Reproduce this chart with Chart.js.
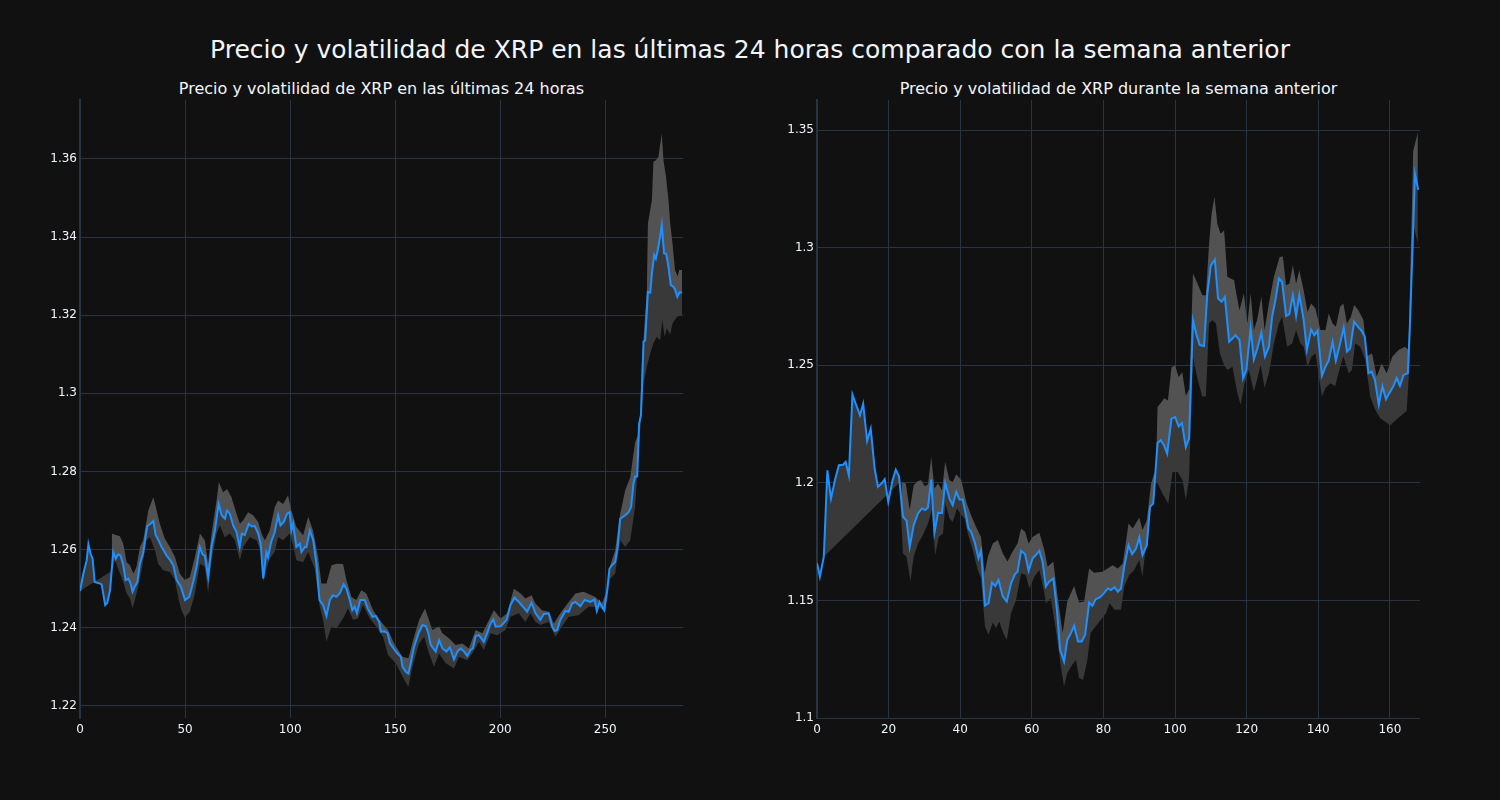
<!DOCTYPE html>
<html>
<head>
<meta charset="utf-8">
<script src="https://cdn.jsdelivr.net/npm/chart.js@4.4.1/dist/chart.umd.min.js"></script>
<style>
  html, body { margin: 0; padding: 0; background: #111111; }
  #wrap { position: relative; width: 1500px; height: 800px; background: #111111; font-family: "DejaVu Sans", sans-serif; color: #f2f5fa; }
  #title { position: absolute; top: 35px; left: 0; width: 1500px; text-align: center; font-size: 25px; line-height: 30px; }
  .sub { position: absolute; top: 79px; font-size: 16px; line-height: 20px; text-align: center; }
  canvas { position: absolute; top: 0; }
</style>
</head>
<body>
<div id="wrap">
  <div id="title">Precio y volatilidad de XRP en las últimas 24 horas comparado con la semana anterior</div>
  <div class="sub" style="left:80px;width:603px;">Precio y volatilidad de XRP en las últimas 24 horas</div>
  <div class="sub" style="left:817px;width:603px;">Precio y volatilidad de XRP durante la semana anterior</div>
  <canvas id="left" width="750" height="800" style="left:0"></canvas>
  <canvas id="right" width="750" height="800" style="left:750px"></canvas>
</div>
<script>
// last 24 hours, 5-minute steps: [step, value]
const dayPrice = [[0,1.2494],[1.6,1.2539],[3.2,1.2573],[4,1.2614],[5,1.259],[6,1.2577],[7,1.2517],[9.5,1.2513],[10.3,1.2511],[12,1.2458],[13,1.2464],[14.3,1.2496],[15.8,1.2594],[17,1.2577],[18.2,1.2588],[19.3,1.2585],[20.6,1.256],[21.7,1.2522],[23,1.2526],[24,1.2515],[25,1.2492],[26,1.2505],[27.3,1.2517],[28.5,1.2564],[30,1.259],[32,1.266],[33.3,1.2665],[34.9,1.2673],[36,1.2637],[37,1.2628],[38.8,1.2607],[41.2,1.2585],[42.8,1.2574],[44.4,1.256],[46,1.2522],[48,1.2505],[50,1.2471],[52,1.2479],[53.9,1.2517],[55.5,1.2556],[57,1.2607],[58.3,1.2588],[59.4,1.2585],[61,1.253],[62.6,1.2607],[64.2,1.2649],[66,1.2717],[67.4,1.2688],[69,1.2679],[70,1.27],[71.3,1.2692],[72.9,1.2662],[74.5,1.2645],[76,1.2607],[77,1.2641],[78.4,1.2637],[80.3,1.2666],[81.6,1.266],[83.2,1.266],[84.8,1.2641],[86,1.2615],[87.2,1.2526],[88.7,1.2594],[89.5,1.2581],[91,1.262],[92.7,1.2645],[94.3,1.2688],[95.4,1.2662],[97,1.2671],[98.6,1.2692],[99.8,1.2696],[100.6,1.2649],[101.4,1.2666],[103,1.2607],[104.6,1.2615],[105.4,1.2594],[107,1.2607],[107.8,1.2607],[109.4,1.2649],[111,1.2624],[112.5,1.2564],[114,1.2471],[115.7,1.2458],[117.3,1.243],[118.9,1.2471],[120.4,1.2483],[122,1.2479],[123.6,1.2488],[125.5,1.2511],[126.8,1.25],[128.4,1.2471],[129.6,1.2445],[130.7,1.2454],[131.8,1.2437],[133.4,1.2471],[135.5,1.2471],[137,1.2449],[139.2,1.2428],[140.8,1.243],[142.4,1.2415],[143.2,1.239],[144.8,1.2391],[146.4,1.2386],[147.5,1.236],[149.5,1.2345],[151.1,1.2334],[152.7,1.2326],[153.5,1.23],[155,1.2288],[156.3,1.2283],[157.4,1.2309],[159,1.2351],[161.1,1.2386],[163,1.2407],[164.6,1.2404],[165.8,1.2386],[166.9,1.2356],[169.3,1.2339],[170.9,1.2368],[172.5,1.2347],[174.4,1.2339],[176,1.235],[178,1.2319],[179.6,1.2339],[181.2,1.2347],[182.8,1.2339],[184.3,1.2328],[185.9,1.2343],[187,1.2347],[188.3,1.2379],[189.9,1.2381],[192.2,1.2364],[193.8,1.2386],[195.4,1.2411],[196.7,1.2421],[197.8,1.2403],[200.2,1.2404],[203,1.242],[204.9,1.2458],[206.8,1.2477],[208.9,1.2466],[210.8,1.2454],[212.8,1.2441],[214.9,1.2464],[216.8,1.2437],[219.1,1.242],[220.7,1.2435],[223.1,1.2437],[224.7,1.2403],[225.9,1.2392],[227.1,1.2394],[228.6,1.242],[231,1.2443],[232.6,1.2441],[234.2,1.2462],[235.8,1.2466],[238.1,1.2455],[240.2,1.2471],[242.9,1.2466],[244.9,1.2472],[246,1.2443],[247.3,1.2466],[248.4,1.2454],[249.5,1.2445],[250.8,1.2492],[252,1.2551],[253.2,1.256],[254.7,1.2568],[255.9,1.2607],[257.1,1.2679],[259.5,1.2688],[261.1,1.2696],[262.3,1.2709],[263.4,1.2768],[264.2,1.2787],[265.2,1.2787],[266.1,1.2922],[267,1.2945],[267.6,1.303],[268.2,1.3132],[269,1.3136],[270.3,1.326],[271.4,1.3258],[272.2,1.3307],[273.3,1.3354],[274.1,1.3345],[275,1.3367],[276.1,1.3401],[276.9,1.3431],[278,1.3358],[279,1.3357],[280.1,1.3324],[281.2,1.3277],[282.4,1.3273],[283.2,1.3266],[284.3,1.3247],[285.3,1.3258],[286.6,1.3258]];
const dayUpper = [[15.1,1.2641],[17.4,1.2637],[19,1.2634],[20.6,1.2615],[22.2,1.2568],[23.8,1.256],[25.4,1.2539],[26.9,1.2556],[28.5,1.2607],[30.1,1.2624],[32.5,1.27],[34.9,1.2734],[36.1,1.2709],[38,1.2666],[40.4,1.2628],[42.8,1.2607],[45.2,1.2581],[47.5,1.2539],[49.9,1.2522],[52.3,1.253],[54.7,1.2581],[57.1,1.2641],[59.4,1.2624],[61,1.2564],[62.6,1.2641],[65,1.2726],[66.1,1.2773],[68.1,1.2747],[70,1.2755],[72.1,1.2734],[74.5,1.2692],[76.1,1.2666],[77.7,1.2675],[80,1.2696],[82.4,1.2688],[84.8,1.2671],[86.4,1.2641],[88,1.2624],[90.3,1.2649],[92.7,1.2709],[94.3,1.2726],[96.7,1.2717],[99,1.2739],[100.6,1.27],[103,1.2658],[106.2,1.2637],[108.6,1.2684],[110.9,1.2649],[113.3,1.2581],[114.9,1.2513],[117.3,1.2513],[119.7,1.256],[122,1.2564],[125.2,1.2563],[126.8,1.2522],[129.2,1.2479],[131.5,1.2471],[133.9,1.2496],[136.3,1.2488],[139.5,1.2445],[142.6,1.242],[146.6,1.2394],[149.5,1.236],[153.5,1.2326],[156.3,1.2322],[159,1.2377],[161.4,1.242],[164.2,1.2449],[166.1,1.242],[167.7,1.2394],[170.9,1.2403],[172.5,1.2386],[175.6,1.2373],[178.8,1.2356],[182,1.236],[185.1,1.2347],[188.3,1.2394],[191.5,1.2386],[197,1.2445],[200.2,1.2424],[203.3,1.2437],[206.5,1.25],[209.7,1.2488],[212,1.2475],[214.9,1.2483],[216.8,1.2462],[219.9,1.2445],[223.1,1.2441],[225.5,1.2411],[228.6,1.2437],[232.6,1.2466],[235.8,1.2488],[239.7,1.2492],[245.3,1.2479],[248.4,1.2462],[250.8,1.2496],[252.4,1.256],[254.7,1.2598],[257.1,1.2692],[259.5,1.2752],[261.9,1.2785],[264.2,1.2875],[265.8,1.2896],[266.6,1.2947],[267.4,1.3077],[269.8,1.3264],[270.3,1.3435],[272.2,1.3495],[272.9,1.3593],[274.1,1.3597],[275.3,1.3606],[276.9,1.3665],[277.7,1.3597],[278.8,1.3559],[280.1,1.3495],[280.9,1.3435],[282,1.3384],[283.2,1.3316],[284.5,1.3299],[285.1,1.3316],[286.6,1.3316]];
const dayLower = [[0,1.2494],[15.1,1.2545],[16.6,1.2573],[19,1.2539],[20.6,1.2517],[22.2,1.2488],[23.8,1.2475],[25,1.2449],[26.9,1.2488],[29.3,1.2547],[31.7,1.2624],[33.3,1.2632],[35.7,1.2598],[37.2,1.2564],[39.6,1.2547],[42.8,1.2543],[45.2,1.2522],[46.8,1.2475],[48.3,1.2445],[49.9,1.2426],[52.3,1.2441],[54.7,1.2488],[57.1,1.2564],[59.4,1.2556],[61,1.2488],[62.6,1.2573],[65,1.2641],[66.6,1.2662],[68.9,1.2632],[71.3,1.2641],[73.7,1.2624],[76.1,1.2573],[77.7,1.2607],[80.8,1.2632],[84,1.2624],[86.4,1.259],[87.2,1.2517],[88.7,1.2551],[90.3,1.2577],[92.7,1.2594],[94.3,1.2632],[96.7,1.2624],[99.8,1.2641],[101.4,1.2611],[103,1.2573],[106.2,1.2568],[108.6,1.2594],[111.7,1.2551],[114.1,1.2454],[115.7,1.242],[117.3,1.2364],[119.7,1.2403],[122,1.2398],[125.2,1.2424],[127.6,1.2449],[130,1.242],[132.3,1.2424],[134.7,1.2458],[137.9,1.2424],[141,1.2403],[144.2,1.2377],[146.6,1.233],[150.3,1.2309],[153.5,1.2275],[156.3,1.2249],[158.2,1.23],[161.4,1.236],[163.8,1.2377],[166.1,1.2334],[168.5,1.23],[170.9,1.2334],[174.1,1.2309],[178,1.2296],[180.4,1.2326],[184.3,1.2317],[186.7,1.2334],[189.9,1.2364],[192.2,1.2343],[195.4,1.2386],[198.6,1.2381],[202.5,1.2394],[204.9,1.2428],[208.9,1.2437],[212,1.2415],[214.4,1.2437],[216.8,1.2415],[219.1,1.2407],[223.1,1.2415],[226.3,1.2377],[229.4,1.2403],[232.6,1.2428],[237.3,1.2432],[242.1,1.2454],[246.8,1.2454],[250,1.2441],[252.4,1.2526],[254.7,1.2539],[257.1,1.2624],[259.5,1.2607],[261.9,1.2624],[264.2,1.2709],[265.8,1.2837],[268.2,1.3026],[269.8,1.3068],[271.4,1.3102],[272.9,1.3128],[274.5,1.3145],[276.1,1.3136],[277.2,1.3188],[278.2,1.3145],[279.3,1.3166],[280.9,1.315],[282,1.3179],[284.1,1.3196],[286.6,1.32]];

// previous week, hourly steps: [hour, value]
const weekPrice = [[0,1.1658],[0.8,1.1601],[1.9,1.1686],[2.9,1.2053],[3.9,1.1933],[5,1.2011],[6.1,1.2075],[7.3,1.2077],[8,1.2089],[8.9,1.2032],[9.9,1.2375],[11,1.2329],[12,1.2287],[12.9,1.2336],[14,1.2178],[15,1.223],[16.1,1.2061],[17,1.1983],[18,1.1997],[18.9,1.2015],[19.9,1.1919],[21.1,1.2011],[22,1.2056],[22.9,1.2028],[24,1.1856],[25,1.1839],[25.9,1.1728],[27,1.182],[28.2,1.187],[29.3,1.1891],[30.2,1.1884],[31,1.1895],[31.9,1.2014],[32.8,1.1788],[33.8,1.1873],[34.9,1.1872],[35.8,1.2],[37,1.1933],[37.9,1.1905],[38.9,1.1962],[39.8,1.1929],[40.7,1.1929],[41.7,1.1856],[42.3,1.1806],[43,1.1792],[44,1.1749],[45.1,1.1679],[45.8,1.1711],[46.9,1.1478],[47.9,1.1488],[48.9,1.1576],[49.8,1.1561],[50.7,1.1587],[51.9,1.1516],[53,1.1495],[54.2,1.1573],[55.3,1.1612],[56,1.1622],[57,1.1711],[58.1,1.1697],[59.1,1.1626],[60.2,1.1679],[61.1,1.1693],[62.1,1.1711],[63,1.1665],[63.9,1.1559],[64.8,1.158],[66,1.1594],[67,1.146],[67.9,1.129],[69,1.124],[69.9,1.1332],[70.9,1.1361],[71.8,1.1392],[72.9,1.1325],[73.9,1.1325],[74.9,1.1354],[76,1.1491],[76.9,1.1477],[77.8,1.1505],[79,1.1513],[80.1,1.153],[81.2,1.1551],[82.1,1.1544],[83.1,1.1556],[84,1.1537],[84.9,1.1551],[85.8,1.1643],[87,1.1735],[88,1.1697],[89.1,1.1721],[90,1.1768],[90.9,1.1693],[92.1,1.1735],[93,1.1898],[93.9,1.1912],[95.1,1.2169],[96,1.2181],[96.9,1.216],[97.8,1.2124],[99,1.2273],[100,1.228],[101,1.224],[101.9,1.2254],[103,1.2152],[103.9,1.2188],[105,1.2692],[106,1.2628],[106.9,1.2586],[108.1,1.2582],[109,1.2805],[110,1.2925],[111.1,1.2949],[112,1.2784],[113,1.277],[113.9,1.2791],[115.1,1.26],[116,1.2614],[116.9,1.2628],[118,1.2607],[119,1.2445],[119.9,1.248],[121.1,1.2657],[122,1.2525],[123,1.2572],[124.1,1.2638],[125.1,1.2537],[126.2,1.2579],[127.1,1.2706],[128.1,1.2784],[129,1.2869],[129.9,1.2854],[131,1.2709],[131.9,1.2717],[132.9,1.2798],[133.8,1.2709],[134.7,1.2798],[135.9,1.2695],[136.8,1.2565],[138,1.2652],[138.9,1.2628],[139.8,1.2647],[141,1.2455],[142,1.2494],[142.9,1.252],[144,1.26],[144.9,1.252],[146.1,1.2593],[147.1,1.2661],[148,1.2558],[148.9,1.2572],[150,1.2685],[151.2,1.2661],[152.1,1.2647],[153,1.2621],[154,1.2466],[154.9,1.2473],[155.8,1.2438],[156.9,1.2332],[157.9,1.241],[158.9,1.2356],[160.1,1.2388],[161,1.2412],[161.9,1.2445],[162.8,1.2412],[163.8,1.2459],[165,1.2466],[165.6,1.2678],[166.3,1.2989],[167,1.3313],[167.9,1.3246]];
const weekUpper = [[23.6,1.2004],[24.8,1.1997],[25.9,1.1884],[27,1.199],[28.2,1.2008],[29.1,1.2011],[30.1,1.1986],[31,1.1994],[31.9,1.211],[32.8,1.1976],[33.8,1.1997],[34.9,1.1969],[35.8,1.2089],[37,1.2011],[37.9,1.2004],[38.9,1.2036],[40.3,1.2011],[41.7,1.1919],[43,1.1863],[44.4,1.1813],[45.8,1.177],[46.8,1.1615],[47.7,1.1686],[49.1,1.1742],[50.5,1.1757],[51.9,1.17],[53.2,1.1665],[54.6,1.1707],[56,1.1742],[57,1.1806],[58.1,1.1792],[59.1,1.1742],[60.2,1.177],[62.1,1.1788],[63.5,1.1714],[64.4,1.1643],[66,1.1665],[67.2,1.1516],[68.6,1.1361],[69.9,1.1495],[71.8,1.1561],[73.2,1.1491],[74.6,1.1495],[76,1.1636],[77.4,1.1618],[79.7,1.1622],[82.6,1.165],[84,1.1636],[85.4,1.1657],[87,1.1827],[88.2,1.1806],[90,1.1853],[90.9,1.1799],[92.1,1.1841],[93.3,1.1997],[94.7,1.2068],[95.1,1.2322],[96,1.234],[97,1.236],[98,1.235],[99,1.249],[100,1.25],[101,1.245],[102,1.247],[103,1.237],[104,1.24],[105,1.289],[106.3,1.2847],[107.6,1.2798],[108.6,1.2798],[109.5,1.3017],[110.2,1.3144],[111,1.3217],[111.8,1.3102],[112.7,1.3059],[113.7,1.3073],[114.6,1.2876],[115.5,1.2869],[116.5,1.2861],[117.1,1.2805],[118,1.2734],[119.2,1.2805],[120.2,1.2678],[121.1,1.2805],[122,1.265],[122.9,1.2692],[124.1,1.2791],[125,1.265],[126.2,1.2763],[127.6,1.2876],[129.2,1.296],[130.1,1.2963],[131,1.284],[131.9,1.2847],[132.9,1.2925],[133.8,1.2847],[134.7,1.2904],[135.9,1.2819],[137,1.2727],[138,1.2763],[139.2,1.2741],[140.6,1.265],[142,1.265],[142.9,1.272],[144,1.2678],[144.9,1.2664],[146.1,1.2749],[147,1.2763],[148,1.2678],[149.1,1.2706],[150,1.2756],[151.2,1.2734],[152.6,1.2692],[153.6,1.2537],[155,1.2551],[156.3,1.2452],[157.7,1.2508],[159.1,1.2466],[160.7,1.2537],[162.4,1.2565],[164.2,1.2579],[165.2,1.2565],[166.5,1.3412],[167.8,1.349]];
const weekLower = [[1.9,1.1686],[23,1.2],[24,1.17],[25,1.1686],[26.1,1.158],[27,1.1686],[28.2,1.1742],[29.6,1.1778],[31,1.1827],[32.1,1.1884],[33,1.1693],[34,1.177],[35.2,1.1785],[35.9,1.1912],[37,1.1848],[37.9,1.1834],[39.1,1.1891],[40.3,1.1863],[41.2,1.1848],[42.1,1.1785],[43.5,1.1714],[44.9,1.1629],[45.8,1.1594],[46.9,1.1389],[47.9,1.1354],[49.1,1.1406],[50,1.1382],[50.9,1.141],[52,1.1361],[53,1.1332],[54.2,1.1445],[55.6,1.1502],[57,1.1615],[58.3,1.1608],[59.3,1.1551],[60.7,1.1601],[62.1,1.1629],[63.5,1.153],[63.9,1.1488],[65.3,1.1509],[66.7,1.1375],[68.1,1.1219],[69,1.1134],[69.9,1.1191],[71.3,1.1226],[72.3,1.1247],[73.2,1.117],[74.3,1.1163],[75.5,1.1247],[76.4,1.1361],[77.8,1.1389],[79.2,1.1417],[80.7,1.1445],[81.7,1.1488],[83.1,1.146],[84.9,1.146],[85.8,1.1559],[87.2,1.1608],[88.6,1.1629],[90,1.1672],[90.9,1.1601],[92.3,1.1799],[93.7,1.2011],[95.1,1.1997],[96.5,1.1954],[98.1,1.1912],[99.3,1.2046],[100.7,1.2046],[102.1,1.2011],[103,1.1926],[103.9,1.2018],[105,1.2537],[106.3,1.2438],[107.6,1.2367],[108.6,1.2367],[109.5,1.2678],[110.4,1.2692],[111.4,1.2678],[112.5,1.2551],[113.7,1.2501],[114.6,1.248],[116,1.2494],[117.4,1.2381],[118.3,1.2332],[119.4,1.2424],[120.6,1.248],[122,1.2388],[122.9,1.2438],[123.9,1.2501],[125,1.2403],[126.2,1.2466],[127.6,1.2593],[129,1.2678],[129.9,1.2706],[131.3,1.2579],[132.7,1.2593],[133.8,1.265],[135,1.2593],[135.9,1.2579],[137,1.2494],[138.1,1.2537],[139.2,1.2551],[141,1.2367],[142,1.2403],[143.4,1.2424],[144.7,1.241],[146.1,1.2494],[147,1.2537],[148.5,1.2466],[149.4,1.248],[150.3,1.2593],[151.7,1.2579],[153.1,1.2523],[154.5,1.2367],[155.9,1.231],[157.3,1.2275],[158.7,1.226],[160.1,1.2245],[161.5,1.2265],[163.4,1.229],[164.7,1.2305],[165.6,1.2537],[166.5,1.3102],[167.8,1.3017]];

const dayXTicks = [0, 50, 100, 150, 200, 250];
const dayYTicks = [1.22, 1.24, 1.26, 1.28, 1.3, 1.32, 1.34, 1.36];
const weekXTicks = [0, 20, 40, 60, 80, 100, 120, 140, 160];
const weekYTicks = [1.1, 1.15, 1.2, 1.25, 1.3, 1.35];

const gridColor = '#283442';
const textColor = '#f2f5fa';
const font = { family: 'DejaVu Sans', size: 12 };

function pts(arr) {
    return arr.map(p => ({ x: p[0], y: p[1] }));
}

function makeChart(id, price, upper, lower, xr, yr, xTicks, yTicks, yWidth, padRight) {
    const ctx = document.getElementById(id).getContext('2d');
    return new Chart(ctx, {
        type: 'line',
        data: {
            datasets: [
                { data: pts(price), borderColor: '#1e90ff', borderWidth: 2, pointRadius: 0, fill: false, order: 0, tension: 0 },
                { data: pts(upper), borderColor: 'rgba(0,0,0,0)', borderWidth: 1, pointRadius: 0, fill: { target: 0 }, backgroundColor: '#525252', order: 1 },
                { data: pts(lower), borderColor: 'rgba(0,0,0,0)', borderWidth: 1, pointRadius: 0, fill: { target: 0 }, backgroundColor: '#393939', order: 2 },
            ],
        },
        options: {
            responsive: false,
            animation: false,
            devicePixelRatio: 1,
            layout: { padding: { top: 100, right: padRight, left: 0, bottom: 0 } },
            plugins: { legend: { display: false }, tooltip: { enabled: false } },
            scales: {
                x: {
                    type: 'linear', min: xr[0], max: xr[1],
                    afterBuildTicks: s => { s.ticks = xTicks.map(v => ({ value: v })); },
                    afterFit: s => { s.height = 82; },
                    grid: { color: gridColor, drawTicks: false, lineWidth: 1 },
                    border: { display: false },
                    ticks: { color: textColor, font: font, padding: 5, maxRotation: 0 },
                },
                y: {
                    type: 'linear', min: yr[0], max: yr[1],
                    afterBuildTicks: s => { s.ticks = yTicks.map(v => ({ value: v })); },
                    afterFit: s => { s.width = yWidth; },
                    grid: { color: gridColor, drawTicks: false, lineWidth: 1 },
                    border: { display: true, color: gridColor, width: 2 },
                    ticks: { color: textColor, font: font, padding: 3, callback: v => String(parseFloat(v.toFixed(2))) },
                },
            },
        },
    });
}

makeChart('left', dayPrice, dayUpper, dayLower, [0, 287], [1.2169, 1.3751], dayXTicks, dayYTicks, 80, 67);
makeChart('right', weekPrice, weekUpper, weekLower, [0, 168.4], [1.1, 1.3628], weekXTicks, weekYTicks, 67, 80);
</script>
</body>
</html>
